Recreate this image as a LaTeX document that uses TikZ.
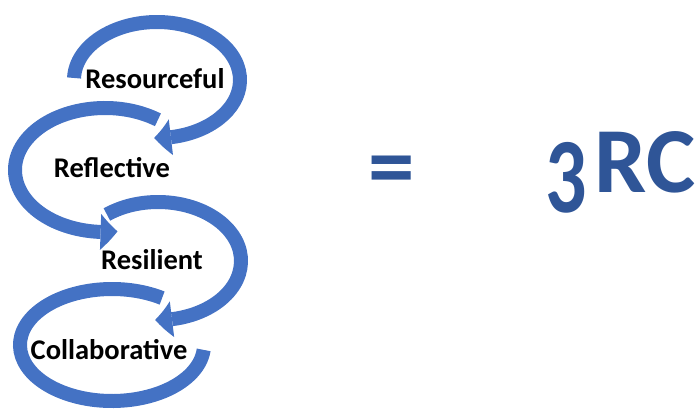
\documentclass[tikz,border=0pt]{standalone}
\usepackage{fontspec}
\setmainfont{Carlito}
\usetikzlibrary{arrows.meta}
\usetikzlibrary{bending}
\definecolor{arcblue}{HTML}{4472C4}
\definecolor{textblue}{HTML}{2F5597}

\begin{document}
\begin{tikzpicture}[x=1pt, y=1pt,
    cyclearc/.style={draw=arcblue, line width=14pt},
    arrowend/.style={-{Triangle[width=36pt, length=17pt, line width=0pt, bend]}},
    word/.style={font=\bfseries\fontsize{28.5}{32}\selectfont, inner sep=0pt},
    bigtext/.style={font=\bfseries\fontsize{93}{100}\selectfont, text=textblue, inner sep=0pt}]
    \useasboundingbox (0,0) rectangle (700,410);
    \coordinate (c1) at (157,330);
    \coordinate (c2) at (105,240);
    \coordinate (c3) at (158,149);
    \coordinate (c4) at (112,65);
    \draw[cyclearc] ([shift={(57:92 and 56)}]c4) arc[start angle=57, end angle=355, x radius=92, y radius=56];
    \draw[cyclearc, arrowend] ([shift={(128:83 and 59)}]c3) arc[start angle=128, end angle=-92, x radius=83, y radius=59];
    \draw[cyclearc, arrowend] ([shift={(54:90 and 62)}]c2) arc[start angle=54, end angle=278, x radius=90, y radius=62];
    \draw[cyclearc, arrowend] ([shift={(178:83 and 58)}]c1) arc[start angle=178, end angle=-92, x radius=83, y radius=58];
    \node[word] (res) at (155,331) {Resourceful};
    \node[word] (ref) at (112,242) {Reflective};
    \node[word] (resil) at (152,150) {Resilient};
    \node[word] (col) at (109,60) {Collaborative};
    \node[bigtext] (eq) at (392,233) {=};
    \node[bigtext, anchor=base west] (rc) at (545,218) {\raisebox{-20pt}{\scalebox{0.88}[1.15]{3}}\kern8pt RC};
\end{tikzpicture}
\end{document}
